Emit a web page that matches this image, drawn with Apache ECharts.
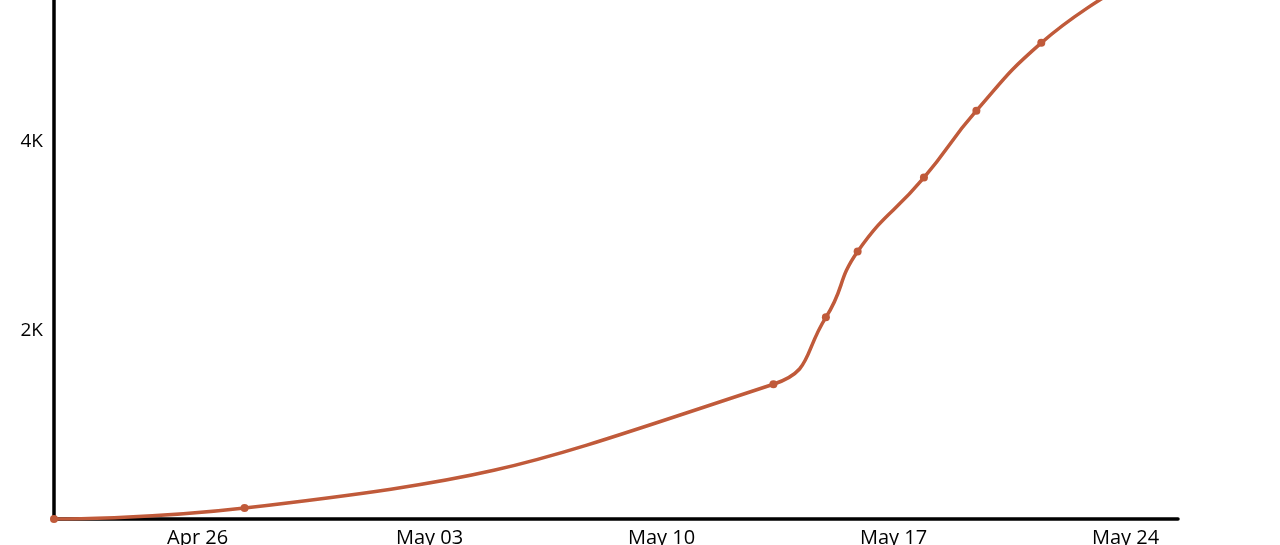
<!DOCTYPE html>
<html>
<head>
<meta charset="utf-8">
<script src="https://cdn.jsdelivr.net/npm/echarts@6/dist/echarts.min.js"></script>
<style>
html,body{margin:0;padding:0;background:#fff;}
#chart{width:1280px;height:545px;}
</style>
</head>
<body>
<div id="chart"></div>
<script>
// Data
const dates = ['2020-04-21T16:00','2020-04-27T10:00','2020-05-13T09:00','2020-05-14T23:00','2020-05-15T22:00','2020-05-17T22:00','2020-05-19T12:00','2020-05-21T11:00','2020-05-23T12:00'];
const cases = [0, 116, 1428, 2137, 2835, 3618, 4327, 5046, 5560];
const tickDates = ['2020-04-26T00:00','2020-05-03T00:00','2020-05-10T00:00','2020-05-17T00:00','2020-05-24T00:00'];
const monthNames = ['Jan','Feb','Mar','Apr','May','Jun','Jul','Aug','Sep','Oct','Nov','Dec'];
const xRange = ['2020-04-21T16:00','2020-05-25T14:00'];
const yRange = [0, 5500];
const yStep = 2000;

const t = s => new Date(s).getTime();
const seriesData = dates.map((d, i) => [t(d), cases[i]]);
const FONT = 'Open Sans';

const chart = echarts.init(document.getElementById('chart'), null, {renderer: 'canvas'});
chart.setOption({
  animation: false,
  backgroundColor: '#fff',
  grid: {left: 54, right: 102, top: 0, bottom: 26, containLabel: false, outerBoundsMode: 'none'},
  xAxis: {
    type: 'value',
    min: t(xRange[0]),
    max: t(xRange[1]),
    axisLine: {show: true, lineStyle: {color: '#000', width: 3.5}},
    axisTick: {show: false},
    splitLine: {show: false},
    axisLabel: {
      customValues: tickDates.map(t),
      margin: 9,
      color: '#000',
      fontFamily: FONT,
      fontSize: 20,
      hideOverlap: false,
      formatter: v => {
        const d = new Date(v);
        return monthNames[d.getMonth()] + ' ' + String(d.getDate()).padStart(2, '0');
      }
    }
  },
  yAxis: {
    type: 'value',
    min: yRange[0],
    max: yRange[1],
    interval: yStep,
    axisLine: {show: true, lineStyle: {color: '#000', width: 3.5}},
    axisTick: {show: false},
    splitLine: {show: false},
    axisLabel: {
      margin: 11,
      color: '#000',
      fontFamily: FONT,
      fontSize: 19,
      showMaxLabel: false,
      formatter: v => v === 0 ? '' : (v / 1000) + 'K'
    }
  },
  series: [{
    type: 'line',
    data: seriesData,
    smooth: 0.5,
    clip: true,
    symbol: 'circle',
    symbolSize: 8,
    lineStyle: {color: '#c05a3a', width: 3.5},
    itemStyle: {color: '#c05a3a'}
  }]
});
</script>
</body>
</html>
